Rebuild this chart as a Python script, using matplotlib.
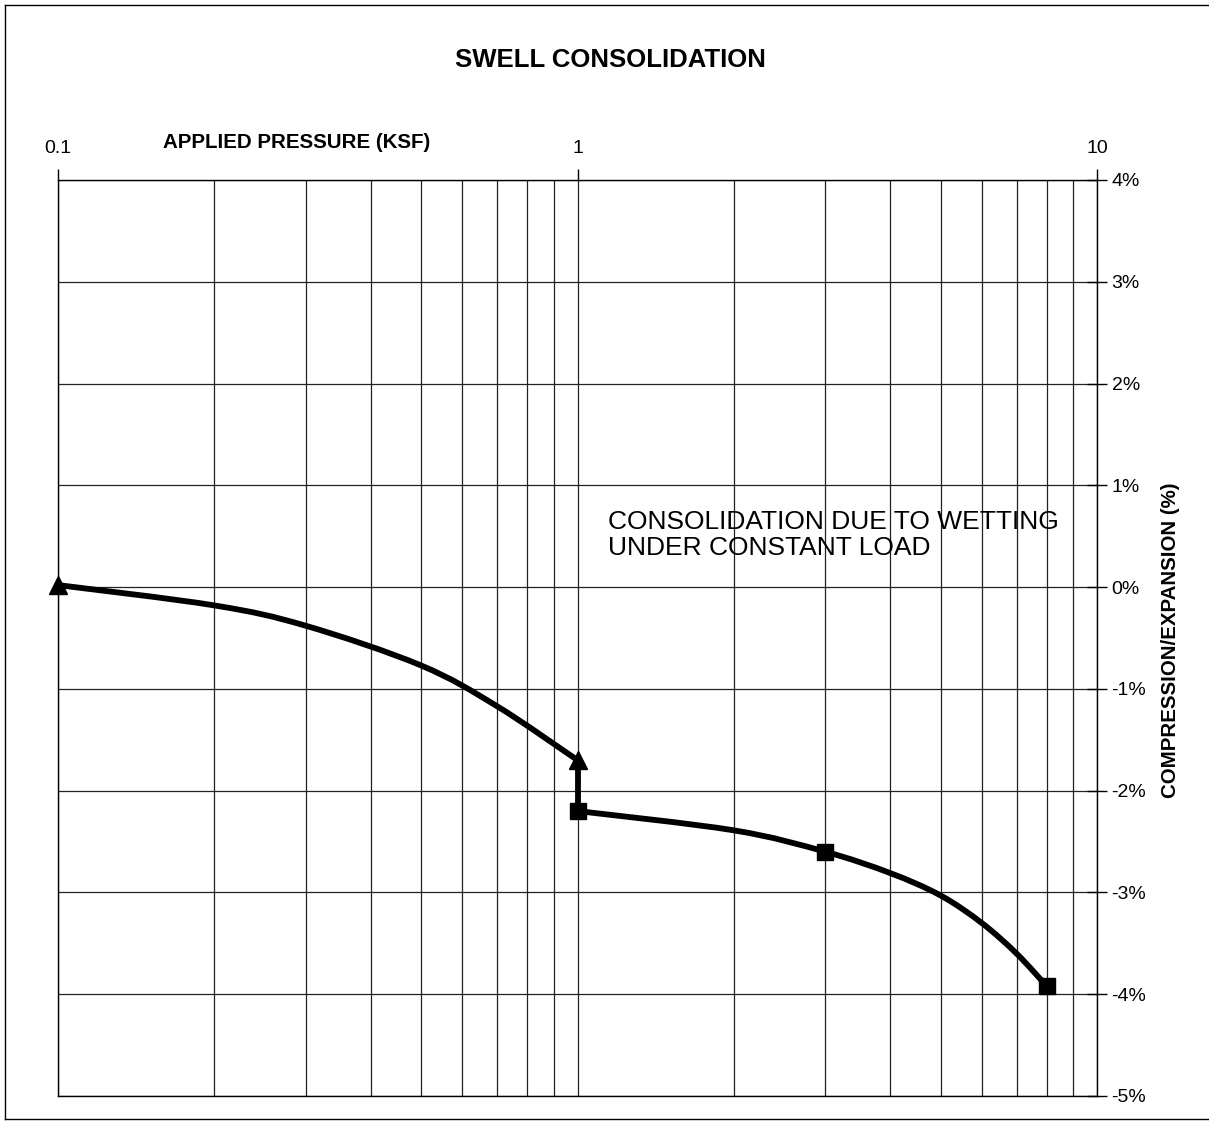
import matplotlib
matplotlib.use("Agg")
import matplotlib.pyplot as plt
from matplotlib.ticker import FixedLocator, NullFormatter, LogLocator
from matplotlib.lines import Line2D
from matplotlib.path import Path
from matplotlib.patches import PathPatch
import numpy as np

plt.rcParams['font.family'] = ['Liberation Sans', 'DejaVu Sans']

# dry loading curve (triangles at the ends)
dry_pressure = [0.1, 0.2, 0.3, 0.5, 0.7, 1.0]
dry_strain = [0.02, -0.18, -0.38, -0.77, -1.17, -1.70]
dry_marked = [0.1, 1.0]
dry_marked_strain = [0.02, -1.70]

# wetting step at constant load
wet_pressure = [1.0, 1.0]
wet_strain = [-1.70, -2.20]

# loading after wetting (squares at readings)
wet_load_pressure = [1.0, 2.0, 3.0, 4.0, 5.0, 6.0, 7.0, 8.0]
wet_load_strain = [-2.20, -2.39, -2.60, -2.81, -3.03, -3.30, -3.60, -3.92]
wet_marked = [1.0, 3.0, 8.0]
wet_marked_strain = [-2.20, -2.60, -3.92]

y_ticks = [4, 3, 2, 1, 0, -1, -2, -3, -4, -5]
x_ticks = [0.1, 1, 10]
x_tick_labels = ["0.1", "1", "10"]


def smooth_path(px, py):
    # Catmull-Rom through the readings (in log-x), as cubic Bezier segments
    lx = np.log10(px)
    y = np.asarray(py, dtype=float)
    n = len(lx)
    verts = [(px[0], y[0])]
    codes = [Path.MOVETO]
    for i in range(n - 1):
        i0, i3 = max(i - 1, 0), min(i + 2, n - 1)
        c1 = (lx[i] + (lx[i + 1] - lx[i0]) / 6, y[i] + (y[i + 1] - y[i0]) / 6)
        c2 = (lx[i + 1] - (lx[i3] - lx[i]) / 6, y[i + 1] - (y[i3] - y[i]) / 6)
        verts += [(10 ** c1[0], c1[1]), (10 ** c2[0], c2[1]), (px[i + 1], y[i + 1])]
        codes += [Path.CURVE4] * 3
    return Path(verts, codes)


W, H = 1209, 1124
fig = plt.figure(figsize=(W / 100, H / 100), dpi=100)
ax = fig.add_axes([58 / W, 1 - 1096 / H, (1097 - 58) / W, (1096 - 180) / H])

ax.set_xscale("log")
ax.set_xlim(0.1, 10)
ax.set_ylim(-5, 4)

# grid: every log minor line plus each percent
ax.xaxis.set_major_locator(FixedLocator(x_ticks))
ax.xaxis.set_minor_locator(LogLocator(base=10, subs=np.arange(2, 10)))
ax.xaxis.set_minor_formatter(NullFormatter())
ax.set_xticklabels(x_tick_labels)
ax.set_yticks(y_ticks)
ax.set_yticklabels([f"{v}%" for v in y_ticks])
ax.grid(True, which="both", axis="x", color="#222222", lw=0.9)
ax.grid(True, which="major", axis="y", color="#222222", lw=0.9)
ax.set_axisbelow(True)

ax.xaxis.tick_top()
ax.yaxis.tick_right()
ax.tick_params(axis="x", which="major", direction="out", length=8, width=1,
               labelsize=14, pad=8.5)
ax.tick_params(axis="x", which="minor", length=0)
ax.tick_params(axis="y", direction="inout", length=14, width=1,
               labelsize=14, pad=3.5)
for s in ax.spines.values():
    s.set_linewidth(1.0)

for px, py in [(dry_pressure, dry_strain), (wet_load_pressure, wet_load_strain)]:
    ax.add_patch(PathPatch(smooth_path(px, py), facecolor="none", edgecolor="black",
                           lw=4.2, capstyle="round", zorder=3))
ax.plot(wet_pressure, wet_strain, color="black", lw=4.2, zorder=3)
ax.plot(dry_marked, dry_marked_strain, ls="none", marker="^", ms=13,
        color="black", zorder=4, clip_on=False)
ax.plot(wet_marked, wet_marked_strain, ls="none", marker="s", ms=12,
        color="black", zorder=4, clip_on=False)

ax.text(1.147, 0.76, "CONSOLIDATION DUE TO WETTING\nUNDER CONSTANT LOAD",
        fontsize=19, va="top", ha="left", linespacing=1.1)

fig.text(610 / W, 1 - 60 / H, "SWELL CONSOLIDATION", fontsize=18.5,
         fontweight="bold", ha="center", va="center")
fig.text(297 / W, 1 - 142 / H, "APPLIED PRESSURE (KSF)", fontsize=14.8,
         fontweight="bold", ha="center", va="center")
fig.text(1170 / W, 1 - 640 / H, "COMPRESSION/EXPANSION (%)", fontsize=14.8,
         fontweight="bold", ha="center", va="center", rotation=90)

# page frame around the chart
fig.add_artist(Line2D([5 / W, 5 / W], [1 - 5 / H, 1 - 1119 / H], color="black", lw=1))
fig.add_artist(Line2D([5 / W, 1], [1 - 5 / H, 1 - 5 / H], color="black", lw=1))
fig.add_artist(Line2D([5 / W, 1], [1 - 1119 / H, 1 - 1119 / H], color="black", lw=1))

fig.savefig("out.png", dpi=100)
